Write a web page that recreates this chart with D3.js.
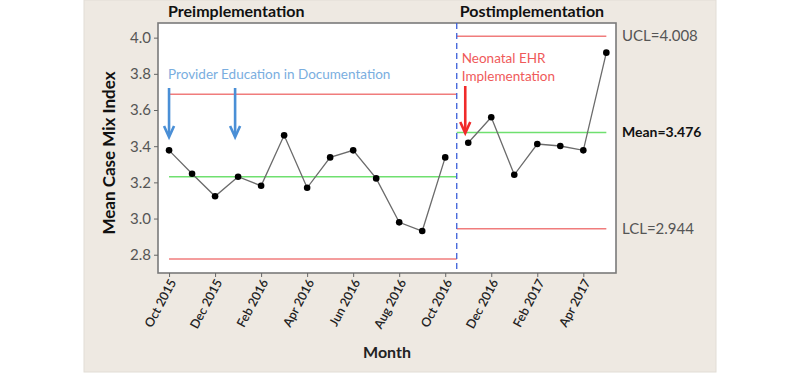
<!DOCTYPE html>
<html>
<head>
<meta charset="utf-8">
<script src="https://cdn.jsdelivr.net/npm/d3@7"></script>
<style>
  body { margin: 0; background: #fff; }
  svg { display: block; }
</style>
</head>
<body>
<svg id="chart" width="800" height="373"></svg>
<script>
// monthly mean case mix index, Oct 2015 .. May 2017
const months = [
  "Oct 2015", "Nov 2015", "Dec 2015", "Jan 2016", "Feb 2016", "Mar 2016", "Apr 2016",
  "May 2016", "Jun 2016", "Jul 2016", "Aug 2016", "Sep 2016", "Oct 2016",
  "Nov 2016", "Dec 2016", "Jan 2017", "Feb 2017", "Mar 2017", "Apr 2017", "May 2017"
];
const cmiValues = [
  3.377, 3.248, 3.123, 3.231, 3.181, 3.460, 3.170, 3.338, 3.377, 3.222, 2.979, 2.931, 3.338,
  3.419, 3.560, 3.242, 3.412, 3.401, 3.377, 3.917
];
const tickMonths = ["Oct 2015", "Dec 2015", "Feb 2016", "Apr 2016", "Jun 2016", "Aug 2016",
  "Oct 2016", "Dec 2016", "Feb 2017", "Apr 2017"];
const yTicks = [2.8, 3.0, 3.2, 3.4, 3.6, 3.8, 4.0];

// stage limits
const stageStart = [0, 12.5];
const stageEnd = [12.5, 19];
const stageUCL = [3.687, 4.008];
const stageMean = [3.231, 3.476];
const stageLCL = [2.776, 2.944];
const stageNames = ["Preimplementation", "Postimplementation"];
const splitAt = 12.5;

// annotation arrows (month index positions)
const blueArrows = [0, 2.87];
const redArrows = [12.87];

const svg = d3.select("#chart");
const font = "Lato, 'Open Sans', sans-serif";

// grey panel behind everything
svg.append("rect")
  .attr("x", 84).attr("y", 0).attr("width", 632).attr("height", 372)
  .attr("fill", "#eee9e2").attr("stroke", "#e2ddd6");

const plotLeft = 158, plotRight = 616, plotTop = 23, plotBottom = 273;

const x = d3.scaleLinear().domain([-0.48, 19.42]).range([plotLeft, plotRight]);
const y = d3.scaleLinear().domain([2.699, 4.081]).range([plotBottom, plotTop]);

svg.append("rect")
  .attr("x", plotLeft).attr("y", plotTop)
  .attr("width", plotRight - plotLeft).attr("height", plotBottom - plotTop)
  .attr("fill", "#fff").attr("stroke", "#7a7a7a").attr("stroke-width", 1.6);

// y axis
const yAxis = svg.append("g")
  .attr("transform", `translate(${plotLeft},0)`)
  .call(d3.axisLeft(y).tickValues(yTicks).tickFormat(d3.format(".1f")).tickSize(4).tickPadding(3));
yAxis.select(".domain").remove();
yAxis.selectAll(".tick line").attr("stroke", "#666");
yAxis.selectAll(".tick text")
  .attr("font-family", font).attr("font-size", 15).attr("fill", "#555");

// x axis
const xAxis = svg.append("g")
  .attr("transform", `translate(0,${plotBottom})`)
  .call(d3.axisBottom(x)
    .tickValues(tickMonths.map(m => months.indexOf(m)))
    .tickFormat(i => months[i]).tickSize(4));
xAxis.select(".domain").remove();
xAxis.selectAll(".tick line").attr("stroke", "#666");
xAxis.selectAll(".tick text")
  .attr("font-family", font).attr("font-size", 12.5).attr("font-weight", 600).attr("fill", "#222")
  .attr("text-anchor", "end")
  .attr("dy", 0).attr("y", 0)
  .attr("transform", "translate(7,9) rotate(-62)");

// axis titles
svg.append("text")
  .attr("transform", `translate(115,153) rotate(-90)`)
  .attr("text-anchor", "middle")
  .attr("font-family", font).attr("font-size", 17).attr("font-weight", "bold").attr("fill", "#111")
  .text("Mean Case Mix Index");

svg.append("text")
  .attr("x", 387).attr("y", 358)
  .attr("text-anchor", "middle")
  .attr("font-family", font).attr("font-size", 16).attr("font-weight", "bold").attr("fill", "#222")
  .text("Month");

// stage titles
svg.selectAll(".stage-title")
  .data(stageNames)
  .join("text")
  .attr("class", "stage-title")
  .attr("x", (d, i) => i === 0 ? x(0) - 1 : x(splitAt) + 3)
  .attr("y", 17)
  .attr("font-family", font).attr("font-size", 16).attr("font-weight", "bold").attr("fill", "#111")
  .text(d => d);

// control limit lines
const limitGroups = [
  { vals: stageUCL, color: "#f07c7c" },
  { vals: stageMean, color: "#6fe06f" },
  { vals: stageLCL, color: "#f07c7c" }
];
limitGroups.forEach(g => {
  g.vals.forEach((v, i) => {
    svg.append("line")
      .attr("x1", x(stageStart[i])).attr("x2", x(stageEnd[i]))
      .attr("y1", y(v)).attr("y2", y(v))
      .attr("stroke", g.color).attr("stroke-width", 1.5);
  });
});

// stage split
svg.append("line")
  .attr("x1", x(splitAt)).attr("x2", x(splitAt))
  .attr("y1", plotTop).attr("y2", plotBottom)
  .attr("stroke", "#3b5fd9").attr("stroke-width", 1.3).attr("stroke-dasharray", "6,4");

// data line per stage
const line = d3.line().x(d => x(d.i)).y(d => y(d.v));
const points = cmiValues.map((v, i) => ({ i, v }));
[points.slice(0, 13), points.slice(13)].forEach(seg => {
  svg.append("path")
    .datum(seg)
    .attr("d", line)
    .attr("fill", "none").attr("stroke", "#6b6b6b").attr("stroke-width", 1.3);
});
svg.selectAll(".pt")
  .data(points)
  .join("circle")
  .attr("class", "pt")
  .attr("cx", d => x(d.i)).attr("cy", d => y(d.v))
  .attr("r", 3.3).attr("fill", "#000");

// right labels
const labelX = plotRight + 6;
const rightLabels = [
  { text: "UCL=" + stageUCL[1].toFixed(3), v: stageUCL[1], color: "#555", weight: "normal" },
  { text: "Mean=" + stageMean[1].toFixed(3), v: stageMean[1], color: "#111", weight: "bold" },
  { text: "LCL=" + stageLCL[1].toFixed(3), v: stageLCL[1], color: "#555", weight: "normal" }
];
svg.selectAll(".rlab")
  .data(rightLabels)
  .join("text")
  .attr("class", "rlab")
  .attr("x", labelX).attr("y", d => y(d.v))
  .attr("dy", "0.35em")
  .attr("font-family", font).attr("font-size", d => d.weight === "bold" ? 14 : 15)
  .attr("font-weight", d => d.weight).attr("fill", d => d.color)
  .text(d => d.text);

// annotations
svg.append("text")
  .attr("x", x(0) - 1).attr("y", 79)
  .attr("font-family", font).attr("font-size", 13.5).attr("fill", "#7aaee0")
  .text("Provider Education in Documentation");

const neo = svg.append("text")
  .attr("font-family", font).attr("font-size", 13.5).attr("fill", "#ef5a5a");
neo.append("tspan").attr("x", x(splitAt) + 5).attr("y", 63).text("Neonatal EHR");
neo.append("tspan").attr("x", x(splitAt) + 5).attr("y", 81).text("Implementation");

function arrow(xi, color, y0, y1) {
  const cx = x(xi);
  svg.append("line")
    .attr("x1", cx).attr("x2", cx).attr("y1", y0).attr("y2", y1 - 2)
    .attr("stroke", color).attr("stroke-width", 2.6);
  svg.append("path")
    .attr("d", `M${cx - 5},${y1 - 11} L${cx},${y1} L${cx + 5},${y1 - 11}`)
    .attr("fill", "none").attr("stroke", color).attr("stroke-width", 2.6);
}
blueArrows.forEach(i => arrow(i, "#4a8fd6", 88, 137));
redArrows.forEach(i => arrow(i, "#f02a2a", 86, 133));
</script>
</body>
</html>
